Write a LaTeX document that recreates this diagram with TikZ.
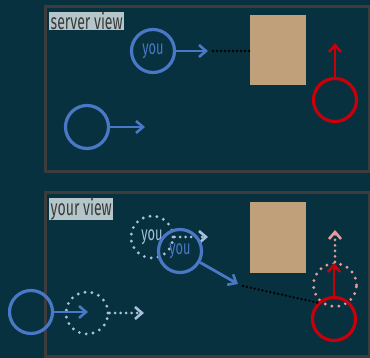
\documentclass[tikz,border=0pt]{standalone}
\usepackage{fontspec}
\setmainfont{Fira Sans}
\usetikzlibrary{arrows.meta}
\definecolor{bg}{HTML}{07313F}
\definecolor{framec}{HTML}{3C3C3C}
\definecolor{you}{HTML}{4A78C6}
\definecolor{ghost}{HTML}{A6C0DE}
\definecolor{enemy}{HTML}{C8000A}
\definecolor{enemyghost}{HTML}{E89A9A}
\definecolor{wall}{HTML}{C0A07A}
\definecolor{tagfill}{HTML}{B4C6CA}
\definecolor{tagtext}{HTML}{3A3A3A}
\newcommand{\narrow}[1]{\scalebox{0.64}[1]{#1}}
\tikzset{
  panel/.style={draw=framec, line width=3pt},
  tag/.style={fill=tagfill, text=tagtext, anchor=north west, inner xsep=1.5pt, inner ysep=0pt,
    font=\fontsize{22}{22}\selectfont, minimum height=18pt},
  player/.style={circle, draw=you, line width=3.2pt, minimum size=43pt, inner sep=0pt,
    text=you, font=\fontsize{20}{20}\selectfont},
  ghostp/.style={circle, draw=ghost, line width=3.2pt, dash pattern=on 0pt off 7pt, line cap=round,
    minimum size=42pt, inner sep=0pt, text=ghost, font=\fontsize{20}{20}\selectfont},
  foe/.style={circle, draw=enemy, line width=3.2pt, minimum size=43pt, inner sep=0pt},
  foeghost/.style={circle, draw=enemyghost, line width=3.2pt, dash pattern=on 0pt off 7pt,
    line cap=round, minimum size=43pt, inner sep=0pt},
  mv/.style={line width=2.8pt, -{Straight Barb[length=7pt, width=12pt, line width=2.6pt]}},
  mvdot/.style={line width=3pt, dash pattern=on 0pt off 5.5pt, line cap=round,
    -{Straight Barb[length=7pt, width=12pt, line width=2.6pt, line cap=butt]}},
  sight/.style={line width=2.6pt, dash pattern=on 0pt off 4pt, line cap=round, draw=black},
  block/.style={fill=wall, draw=none},
}
\begin{document}
\begin{tikzpicture}[x=1pt, y=-1pt]
  \fill[bg] (0,0) rectangle (370,358);
  \useasboundingbox (0,0) rectangle (370,358);

  % ---------- server view ----------
  \draw[panel] (45,7) rectangle (369,172);
  \node[tag] (tagA) at (49,12) {\narrow{server view}};
  \fill[block] (250,15) rectangle (306,85);
  \coordinate (wallA) at (249,51);
  \node[player] (youA) at (153,51) {\narrow{you}};
  \coordinate (youAend) at (208,51);
  \draw[mv, draw=you] (youA.east) -- (youAend);
  \draw[sight] (213,51) -- (wallA);
  \node[player] (otherA) at (87,127) {};
  \coordinate (otherAend) at (145,127);
  \draw[mv, draw=you] (otherA.east) -- (otherAend);
  \node[foe] (foeA) at (335,100) {};
  \coordinate (foeAend) at (335,43);
  \draw[mv, draw=enemy] (foeA.north) -- (foeAend);

  % ---------- your view ----------
  \draw[panel] (45,193) rectangle (369,357);
  \node[tag] (tagB) at (49,198) {\narrow{your view}};
  \fill[block] (250,202) rectangle (306,273);
  % predicted positions
  \node[ghostp] (youGhost) at (152,237) {\narrow{you}};
  \coordinate (youGhostEnd) at (208,237);
  \draw[mvdot, draw=ghost] (youGhost.east) -- (youGhostEnd);
  \node[ghostp] (otherGhost) at (87,313) {};
  \coordinate (otherGhostEnd) at (144,313);
  \draw[mvdot, draw=ghost] (otherGhost.east) -- (otherGhostEnd);
  \node[foeghost] (foeGhost) at (335,285) {};
  \coordinate (foeGhostEnd) at (335,230);
  \draw[mvdot, draw=enemyghost] (foeGhost.north) -- (foeGhostEnd);
  % displayed positions
  \node[player] (youB) at (180,251) {\narrow{you}};
  \coordinate (youBend) at (238,284);
  \draw[mv, draw=you] (youB) -- (youBend);
  \node[foe] (foeB) at (334,319) {};
  \coordinate (foeBend) at (334,263);
  \draw[mv, draw=enemy] (foeB.north) -- (foeBend);
  \draw[sight] (243,286) -- (foeB.north west);
  \node[player] (otherB) at (31,312) {};
  \coordinate (otherBend) at (88,312);
  \draw[mv, draw=you] (otherB.east) -- (otherBend);
\end{tikzpicture}
\end{document}
